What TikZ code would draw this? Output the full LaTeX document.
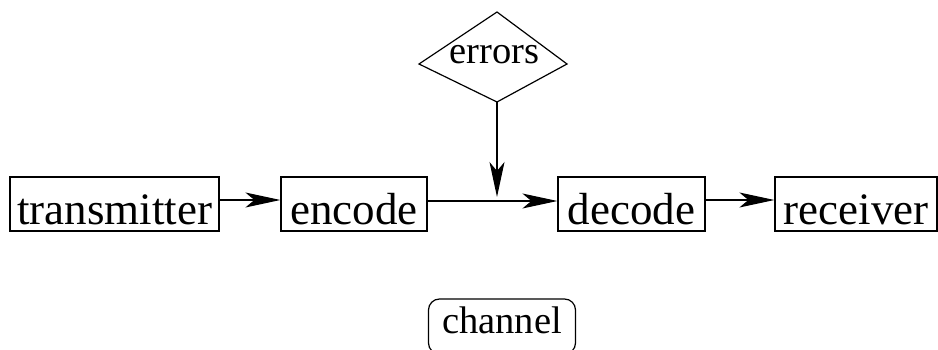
\documentclass[tikz,border=0pt]{standalone}
\usepackage{fontspec}
\setmainfont{Liberation Serif}
\usetikzlibrary{arrows.meta}
\tikzset{
  box/.style={draw, line width=1.2pt, rectangle, inner sep=0pt, minimum height=54pt,
    text height=45pt, text depth=3pt, font=\fontsize{45}{50}\selectfont},
  arr/.style={line width=1.2pt, -{Stealth[length=35pt,width=15pt,inset=9pt]}},
  small/.style={font=\fontsize{38.5}{42}\selectfont, inner sep=0pt}
}
\begin{document}
\begin{tikzpicture}[x=1pt,y=-1pt]
\useasboundingbox (0,0) rectangle (938,350);
\clip (0,0) rectangle (938,350);
\node[box, minimum width=209pt] (transmitter) at (114.5,204) {transmitter};
\node[box, minimum width=146pt] (encode) at (354,204) {encode};
\node[box, minimum width=147pt] (decode) at (631.5,204) {decode};
\node[box, minimum width=162pt] (receiver) at (856,204) {receiver};
% errors diamond
\coordinate (dT) at (497,12);
\coordinate (dR) at (567,64);
\coordinate (dB) at (497,102);
\coordinate (dL) at (419,64);
\draw[line width=1.2pt, line join=miter] (dT) -- (dR) -- (dB) -- (dL) -- cycle;
\node[small, anchor=base] (errors) at (494.5,64) {errors};
\coordinate (hit) at (497,197);
% channel
\node[draw, line width=1.2pt, rounded corners=11pt, inner sep=0pt, minimum width=147pt,
  minimum height=55pt, text height=30pt, text depth=17pt,
  font=\fontsize{38.5}{42}\selectfont] (channel) at (502,326.5) {channel};
% connectors
\draw[arr] ([yshift=4pt]transmitter.east) -- ([yshift=4pt]encode.west);
\draw[arr] ([yshift=3pt]encode.east) -- ([yshift=3pt]decode.west);
\draw[arr] ([yshift=4pt]decode.east) -- ([yshift=4pt]receiver.west);
\draw[arr] (dB) -- (hit);
\end{tikzpicture}
\end{document}
